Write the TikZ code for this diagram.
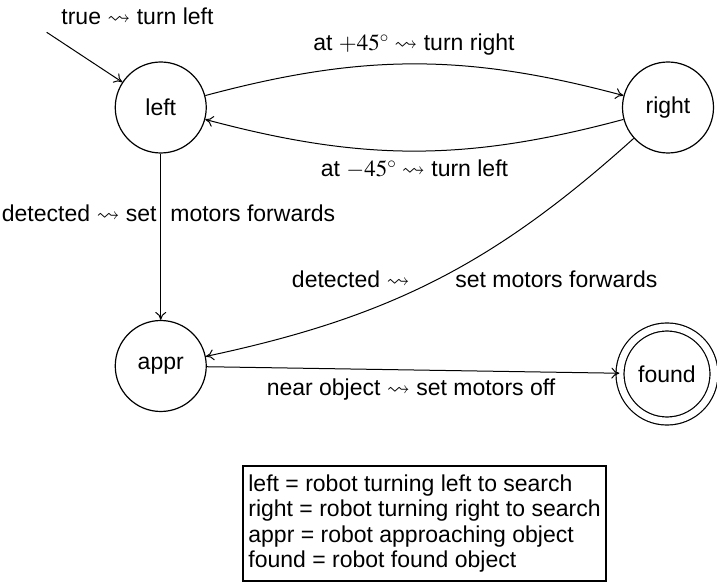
\documentclass[tikz,border=0pt]{standalone}
\usepackage{mathptmx}
\usepackage{amssymb}
\usepackage[no-math]{fontspec}
\setmainfont{Liberation Sans}
\usetikzlibrary{arrows.meta}
\begin{document}
\begin{tikzpicture}[x=0.5pt,y=-0.5pt,
  font=\fontsize{11.5}{12.75}\selectfont,
  >={To[length=4pt,width=5.5pt]},
  state/.style={circle, draw, line width=0.6pt, minimum size=45.5pt, inner sep=0pt},
  accept/.style={state, double, double distance=3.4pt, minimum size=47pt},
  edge/.style={->, line width=0.5pt},
  lbl/.style={inner sep=0pt},
  legendbox/.style={draw, line width=0.6pt, minimum width=181.5pt, minimum height=57.5pt, align=left, inner sep=0pt}]
\useasboundingbox (0,0) rectangle (717,582);
% states
\node[state] (left) at (160.75,107.5) {left};
\node[state] (right) at (668,107.5) {right};
\node[state] (appr) at (160.75,366) {appr};
\node[accept] (found) at (667,374) {found};
\coordinate (start) at (46.7,32.3);
% transitions
\draw[edge] (start) -- (left);
\draw[edge] (left) to[bend left=15] (right);
\draw[edge] (right) to[bend left=15] (left);
\draw[edge] (left) -- (appr);
\draw[edge] (right) to[out=222,in=12] (appr);
\draw[edge] (appr) -- (found);
% labels
\node[lbl, anchor=base] (l0) at (137.5,25) {true $\leadsto$ turn left};
\node[lbl, anchor=base] (l1) at (414,51) {at $+45^\circ\leadsto$ turn right};
\node[lbl, anchor=base] (l2) at (414.5,176.5) {at $-45^\circ\leadsto$ turn left};
\node[lbl, anchor=base east] (l3a) at (157,221.5) {detected $\leadsto$ set};
\node[lbl, anchor=base west] (l3b) at (170,221.5) {motors forwards};
\node[lbl, anchor=base east] (l4a) at (410,288) {detected $\leadsto$};
\node[lbl, anchor=base west] (l4b) at (455,288) {set motors forwards};
\node[lbl, anchor=base] (l5) at (411,395) {near object $\leadsto$ set motors off};
% legend
\node[legendbox] (legend) at (424.5,523.5) {left = robot turning left to search\\
right = robot turning right to search\\
appr = robot approaching object\\
found = robot found object};
\end{tikzpicture}
\end{document}
